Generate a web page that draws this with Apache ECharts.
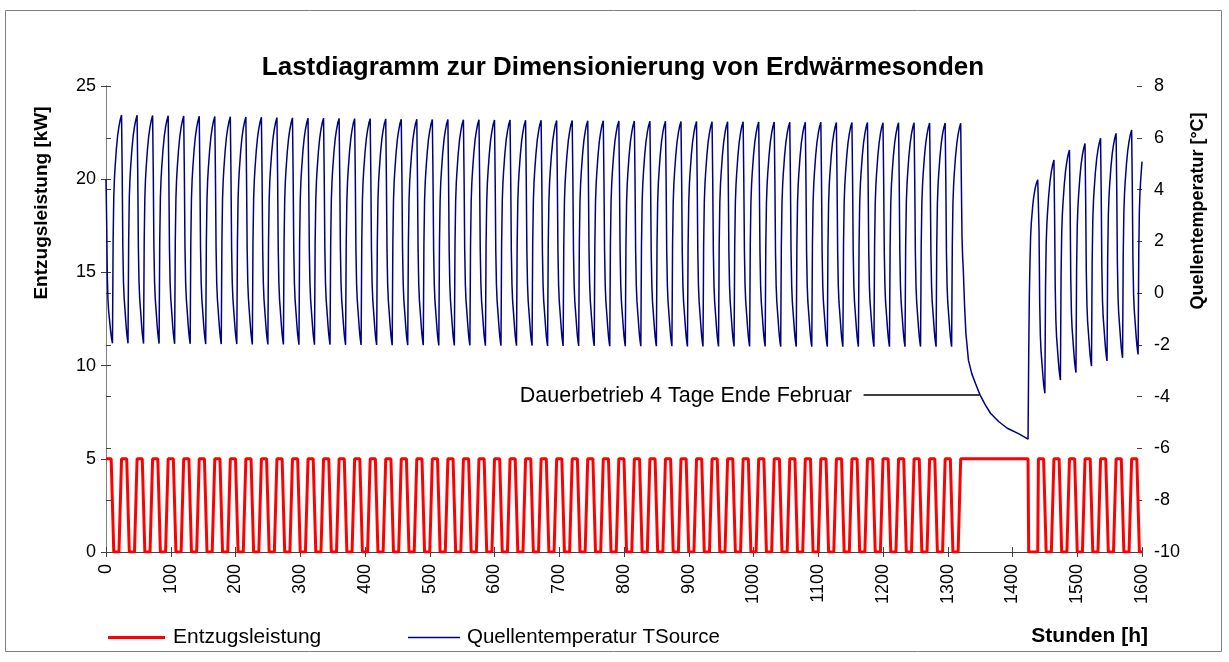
<!DOCTYPE html>
<html>
<head>
<meta charset="utf-8">
<title>Lastdiagramm</title>
<script src="https://cdn.jsdelivr.net/npm/echarts@6/dist/echarts.min.js"></script>
<style>
  html, body { margin: 0; padding: 0; background: #ffffff; }
  #chart { width: 1229px; height: 662px; }
</style>
</head>
<body>
<div id="chart"></div>
<script>
  // x-Achse: Stunden
  const xTicks = [0, 100, 200, 300, 400, 500, 600, 700, 800, 900, 1000, 1100, 1200, 1300, 1400, 1500, 1600];
  const endHour = 1600;

  // Entzugsleistung [kW] eines normalen Tages, Stunde 0..23 (Pumpe ein ab Stunde 0)
  const dayLoad = [5, 5, 5, 5, 5, 5, 5, 5, 5, 5, 5, 5, 0, 0, 0, 0, 0, 0, 0, 0, 0, 0, 0, 0];

  // Verlauf der Quellentemperatur innerhalb eines Tages, als Anteil zwischen Minimum und Maximum
  const fallShape = [1, 0.75, 0.42, 0.27, 0.20, 0.16, 0.12, 0.08, 0.045, 0.02, 0];                 // Stunde 0..10
  const riseShape = [0.45, 0.64, 0.72, 0.77, 0.81, 0.85, 0.88, 0.91, 0.93, 0.95, 0.965, 0.98, 0.99]; // Stunde 11..23

  // Tagesmaxima (Beginn Pumpenlauf) und Tagesminima [°C], Tag 0..54 (+ Maximum Tag 55)
  const peaksA = [
    4.40, 6.88, 6.87, 6.86, 6.85, 6.84, 6.83, 6.82, 6.81, 6.80, 6.79,
    6.78, 6.77, 6.76, 6.76, 6.75, 6.74, 6.74, 6.73, 6.72, 6.72, 6.71,
    6.71, 6.70, 6.70, 6.69, 6.69, 6.68, 6.68, 6.67, 6.67, 6.66, 6.66,
    6.65, 6.65, 6.64, 6.64, 6.63, 6.63, 6.62, 6.62, 6.62, 6.61, 6.61,
    6.60, 6.60, 6.60, 6.59, 6.59, 6.59, 6.58, 6.58, 6.58, 6.57, 6.57,
    6.56
  ];
  const minsA = [
    -1.94, -1.94, -1.95, -1.95, -1.96, -1.96, -1.97, -1.97, -1.97, -1.98, -1.98,
    -1.98, -1.99, -1.99, -1.99, -2.00, -2.00, -2.00, -2.01, -2.01, -2.01, -2.02,
    -2.02, -2.02, -2.03, -2.03, -2.03, -2.03, -2.04, -2.04, -2.04, -2.04, -2.05,
    -2.05, -2.05, -2.05, -2.05, -2.06, -2.06, -2.06, -2.06, -2.06, -2.06, -2.07,
    -2.07, -2.07, -2.07, -2.07, -2.07, -2.07, -2.07, -2.07, -2.07, -2.07, -2.07
  ];

  // Dauerbetrieb 4 Tage Ende Februar
  const contLoadStart = 1320;
  const contLoadEnd = 1424;
  const contHours = [1321, 1322, 1323, 1324, 1326, 1328, 1332, 1337, 1343, 1350, 1358, 1366, 1379, 1392, 1410, 1424];
  const contTemps = [4.30, 2.20, 1.40, 0.90, -0.50, -1.55, -2.60, -3.10, -3.50, -3.94, -4.32, -4.64, -4.97, -5.22, -5.44, -5.64];

  // Regeneration nach dem Dauerbetrieb, Stunde 1425..1439
  const recoveryTemps = [-2.50, -0.10, 1.20, 2.20, 2.70, 3.00, 3.30, 3.55, 3.75, 3.90, 4.05, 4.15, 4.25, 4.32, 4.38];

  // Tag 60..66 (+ Maximum Tag 67)
  const peaksB = [4.43, 5.14, 5.53, 5.78, 5.98, 6.17, 6.30, 6.40];
  const minsB = [-3.87, -3.36, -3.07, -2.82, -2.62, -2.50, -2.37];

  const loadData = [];
  const tempData = [];

  function addDays(firstDay, peaks, mins) {
    for (let d = 0; d < mins.length; d++) {
      for (let k = 0; k < 24; k++) {
        let h = (firstDay + d) * 24 + k;
        if (h > endHour) return;
        loadData.push([h, dayLoad[k]]);
        let t;
        if (k < fallShape.length) {
          t = mins[d] + fallShape[k] * (peaks[d] - mins[d]);
        } else {
          t = mins[d] + riseShape[k - fallShape.length] * (peaks[d + 1] - mins[d]);
        }
        tempData.push([h, +t.toFixed(2)]);
      }
    }
  }

  addDays(0, peaksA, minsA);

  loadData.push([contLoadStart, 5], [contLoadEnd, 5], [contLoadEnd + 1, 0], [contLoadEnd + recoveryTemps.length, 0]);
  tempData.push([contLoadStart, peaksA[peaksA.length - 1]]);
  contHours.forEach(function (h, i) { tempData.push([h, contTemps[i]]); });
  recoveryTemps.forEach(function (t, i) { tempData.push([contLoadEnd + 1 + i, t]); });

  addDays(60, peaksB, minsB);

  const fontName = 'Liberation Sans, Arial, sans-serif';
  const axisColor = '#404040';

  let myChart = echarts.init(document.getElementById('chart'));
  let option = {
    animation: false,
    backgroundColor: '#ffffff',
    textStyle: { fontFamily: fontName },
    grid: { left: 106, right: 87, top: 86, bottom: 110 },
    legend: [
      {
        left: 103, top: 622,
        icon: 'rect', itemWidth: 57, itemHeight: 3,
        textStyle: { fontSize: 21, color: '#000', fontFamily: fontName, padding: [0, 0, 0, 3] },
        data: ['Entzugsleistung']
      },
      {
        left: 403, top: 622,
        icon: 'rect', itemWidth: 52, itemHeight: 1.5,
        textStyle: { fontSize: 20.5, color: '#000', fontFamily: fontName, padding: [0, 0, 0, 2] },
        data: ['Quellentemperatur TSource']
      }
    ],
    xAxis: [
      {
        type: 'value', min: 0, max: 1600, interval: 100,
        axisLine: { show: true, onZero: false, lineStyle: { color: axisColor, width: 1 } },
        axisTick: { show: true, length: 5, lineStyle: { color: axisColor } },
        axisLabel: {
          rotate: 90, margin: 12, fontSize: 18, color: '#000', fontFamily: fontName,
          formatter: function (v) { return String(v); }
        },
        splitLine: { show: false }
      },
      {
        type: 'value', min: 0, max: 1600, interval: 100, position: 'bottom',
        axisLine: { show: false, onZero: false },
        axisTick: { show: true, inside: true, length: 5, lineStyle: { color: axisColor } },
        axisLabel: { show: false },
        splitLine: { show: false }
      }
    ],
    yAxis: [
      {
        type: 'value', min: 0, max: 25, interval: 5, position: 'left',
        axisLine: { show: true, lineStyle: { color: axisColor } },
        axisTick: { show: true, length: 5, lineStyle: { color: axisColor } },
        axisLabel: { margin: 10, fontSize: 18, color: '#000', fontFamily: fontName },
        splitLine: { show: false }
      },
      {
        type: 'value', min: -10, max: 8, interval: 2, position: 'right',
        axisLine: { show: true, lineStyle: { color: '#808080' } },
        axisTick: { show: true, length: 5, lineStyle: { color: axisColor } },
        axisLabel: { margin: 12, fontSize: 18, color: '#000', fontFamily: fontName },
        splitLine: { show: false }
      },
      {
        type: 'value', min: 0, max: 25, interval: 5, position: 'left',
        axisLine: { show: false },
        axisTick: { show: true, inside: true, length: 5, lineStyle: { color: axisColor } },
        axisLabel: { show: false },
        splitLine: { show: false }
      },
      {
        type: 'value', min: -10, max: 8, interval: 2, position: 'right',
        axisLine: { show: false },
        axisTick: { show: true, inside: true, length: 5, lineStyle: { color: axisColor } },
        axisLabel: { show: false },
        splitLine: { show: false }
      }
    ],
    graphic: [
      {
        type: 'rect', silent: true,
        shape: { x: 5.5, y: 10.5, width: 1216, height: 641 },
        style: { fill: 'none', stroke: '#808080', lineWidth: 1 }
      },
      {
        type: 'text', x: 623, y: 68,
        style: {
          text: 'Lastdiagramm zur Dimensionierung von Erdwärmesonden', font: 'bold 26px ' + fontName,
          fill: '#000', align: 'center', verticalAlign: 'middle'
        }
      },
      {
        type: 'text', x: 42, y: 203, rotation: Math.PI / 2,
        style: { text: 'Entzugsleistung [kW]', font: 'bold 19px ' + fontName, fill: '#000', align: 'center', verticalAlign: 'middle' }
      },
      {
        type: 'text', x: 1198, y: 211, rotation: Math.PI / 2,
        style: { text: 'Quellentemperatur [°C]', font: 'bold 18px ' + fontName, fill: '#000', align: 'center', verticalAlign: 'middle' }
      },
      {
        type: 'text', x: 1148, y: 636,
        style: { text: 'Stunden [h]', font: 'bold 21px ' + fontName, fill: '#000', align: 'right', verticalAlign: 'middle' }
      },
      {
        type: 'text', x: 852, y: 396,
        style: { text: 'Dauerbetrieb 4 Tage Ende Februar', font: '21.5px ' + fontName, fill: '#000', align: 'right', verticalAlign: 'middle' }
      }
    ],
    series: [
      {
        name: 'Quellentemperatur TSource',
        type: 'line',
        xAxisIndex: 0,
        yAxisIndex: 1,
        data: tempData,
        symbol: 'none',
        lineStyle: { color: '#000080', width: 1.5 },
        itemStyle: { color: '#000080' },
        markLine: {
          silent: true,
          symbol: 'none',
          label: { show: false },
          lineStyle: { color: '#000', width: 1.5, type: 'solid' },
          data: [[{ coord: [1170, -3.94] }, { coord: [1349, -3.94] }]]
        },
        z: 2
      },
      {
        name: 'Entzugsleistung',
        type: 'line',
        xAxisIndex: 0,
        yAxisIndex: 0,
        data: loadData,
        symbol: 'none',
        lineStyle: { color: '#ff0000', width: 3 },
        itemStyle: { color: '#ff0000' },
        z: 3
      }
    ]
  };
  if (option && typeof option === 'object') {
    myChart.setOption(option, true);
  }
  window.addEventListener('resize', function () {
    myChart.resize();
  });
</script>
</body>
</html>
